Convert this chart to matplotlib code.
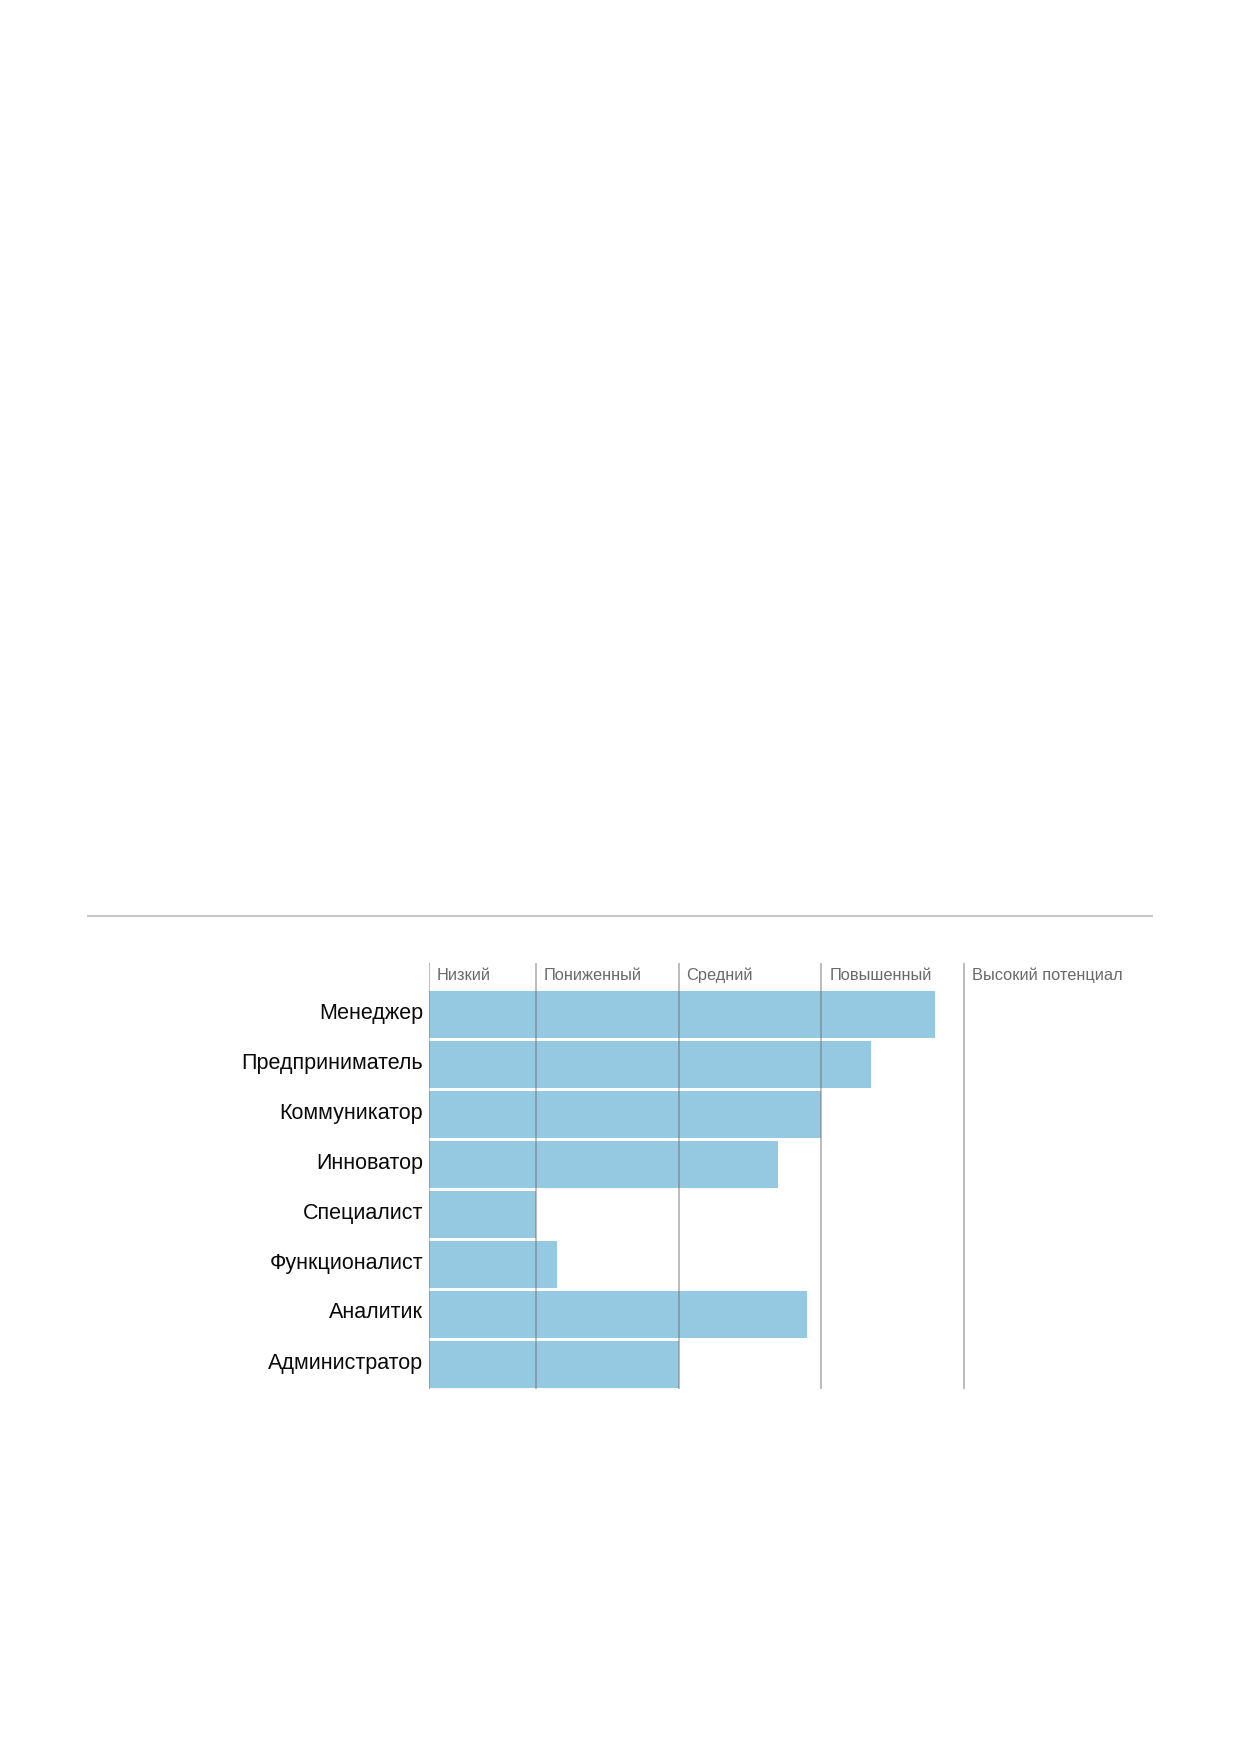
import matplotlib
matplotlib.use("Agg")
import matplotlib.pyplot as plt
from matplotlib.lines import Line2D
import matplotlib.transforms as mtransforms

plt.rcParams['font.family'] = ['Liberation Sans', 'DejaVu Sans']

categories = ["Менеджер", "Предприниматель", "Коммуникатор", "Инноватор",
              "Специалист", "Функционалист", "Аналитик", "Администратор"]
values = [8.6, 7.7, 7.0, 6.4, 3.0, 3.3, 6.8, 5.0]
level_starts = [1.5, 3, 5, 7, 9]
level_labels = ["Низкий", "Пониженный", "Средний", "Повышенный", "Высокий потенциал"]

W, H = 1239, 1754
fig = plt.figure(figsize=(W / 100, H / 100), dpi=100)
fig.patch.set_facecolor("white")

ax_left, ax_right, ax_top, ax_bottom = 429, 1152, 963, 1389
ax = fig.add_axes([ax_left / W, 1 - ax_bottom / H,
                   (ax_right - ax_left) / W, (ax_bottom - ax_top) / H])

y = list(range(len(categories)))
ax.barh(y, [v - level_starts[0] for v in values], left=level_starts[0],
        height=0.94, color="#95c9e1", zorder=1)

ax.set_xlim(level_starts[0], level_starts[0] + (ax_right - ax_left) / 71.3)
ax.set_ylim(7.49, -1.03)

for xs in level_starts:
    ax.axvline(xs, color="#6f6f6f", alpha=0.55, lw=1.2, zorder=3)

offset = mtransforms.offset_copy(ax.transData, fig=fig, x=8, y=0, units="dots")
for xs, lab in zip(level_starts, level_labels):
    ax.text(xs, -0.78, lab, transform=offset, ha="left", va="center",
            fontsize=11.8, color="#6a6a6a")

lab_off = mtransforms.offset_copy(ax.transData, fig=fig, x=-6, y=1.5, units="dots")
for yi, cat in zip(y, categories):
    ax.text(level_starts[0], yi, cat, transform=lab_off, ha="right", va="center",
            fontsize=15.5, color="#0a0a0a")

ax.set_yticks([])
ax.set_xticks([])
for s in ax.spines.values():
    s.set_visible(False)

fig.add_artist(Line2D([88 / W, 1152 / W], [1 - 916 / H, 1 - 916 / H],
                      color="#c8c8c8", lw=1.5, transform=fig.transFigure))

fig.savefig("out.png", dpi=100, facecolor="white")
